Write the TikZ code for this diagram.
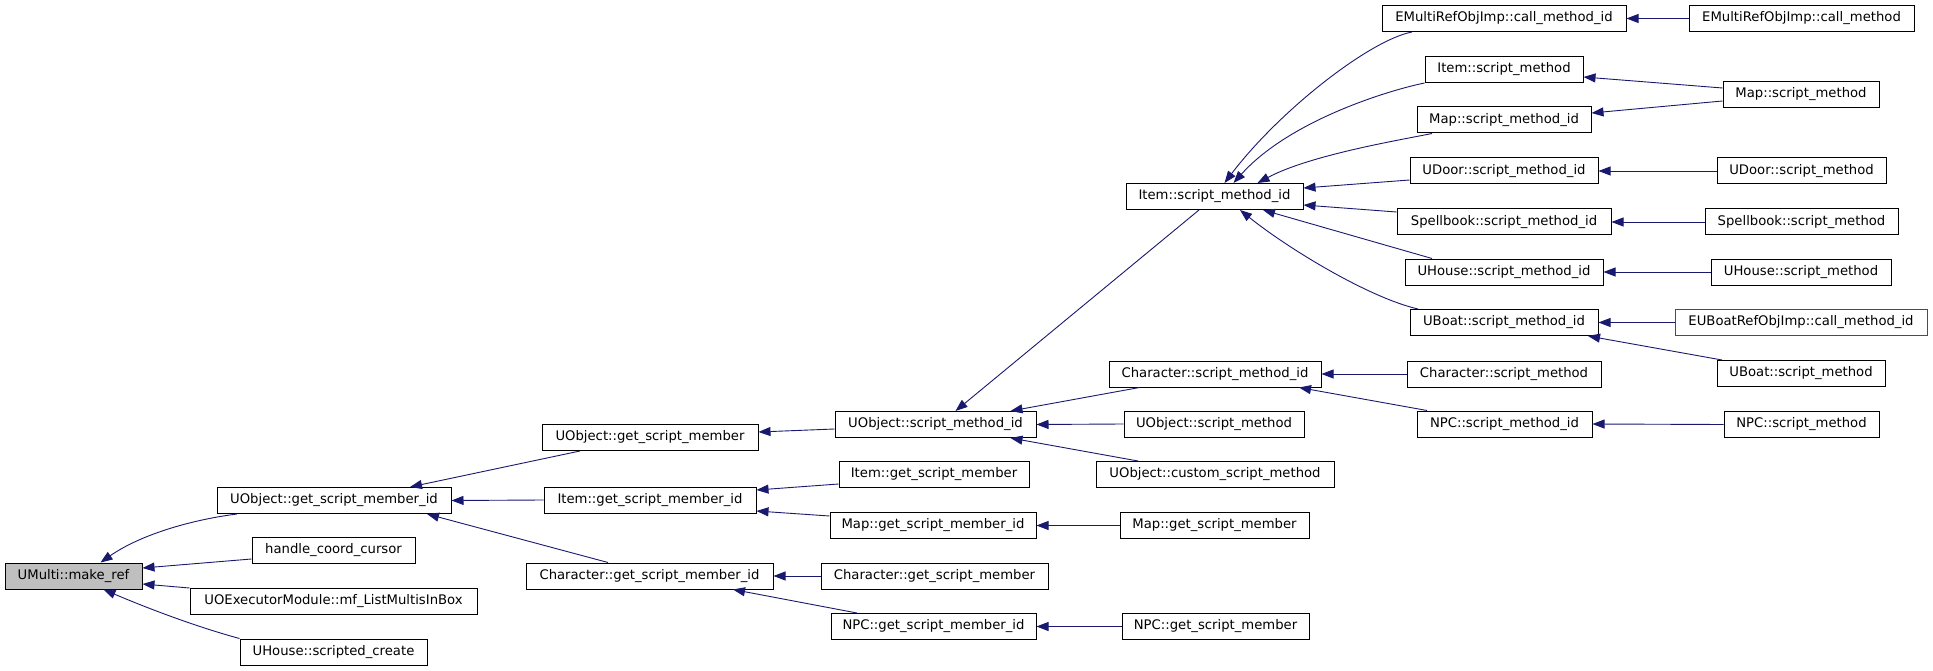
\documentclass[tikz,border=0pt]{standalone}
\usepackage{fontspec}
\setmainfont{DejaVu Sans}
\usetikzlibrary{arrows.meta}
\definecolor{edgeblue}{HTML}{191970}
\definecolor{rootgray}{HTML}{BFBFBF}
\tikzset{
  fnbox/.style={draw=black, line width=1pt, minimum height=26pt, inner sep=0pt,
    font=\fontsize{13.2}{15}\selectfont},
  call/.style={draw=edgeblue, line width=0.9pt, -{Triangle[length=12pt,width=9pt]}}
}
\newcommand{\func}[6][]{
  \node[fnbox, minimum width=#5pt, #1] (#2) at (#3,#4) {#6};
}

\begin{document}
\begin{tikzpicture}[x=1pt, y=-1pt]
      \fill[white] (0,0) rectangle (1933,671);

      \func[fill=rootgray]{make}{73.5}{576}{137}{UMulti::make\_ref}

      \func{gsmid}{334}{500.5}{234}{UObject::get\_script\_member\_id}
      \func{hcc}{333.5}{550.5}{163}{handle\_coord\_cursor}
      \func{uoex}{333.5}{601.5}{287}{UOExecutorModule::mf\_ListMultisInBox}
      \func{scr}{333.5}{652}{187}{UHouse::scripted\_create}

      \func{gsm}{650}{437.5}{216}{UObject::get\_script\_member}
      \func{igsmid}{650}{500}{212}{Item::get\_script\_member\_id}
      \func{cgsmid}{649.5}{576}{247}{Character::get\_script\_member\_id}

      \func{usmid}{935.5}{424.5}{201}{UObject::script\_method\_id}
      \func{igsm}{934}{474.5}{190}{Item::get\_script\_member}
      \func{mgsmid}{933}{525.5}{206}{Map::get\_script\_member\_id}
      \func{cgsm}{934.5}{576}{227}{Character::get\_script\_member}
      \func{ngsmid}{933.5}{626.5}{205}{NPC::get\_script\_member\_id}

      \func{ismid}{1214.5}{196.5}{177}{Item::script\_method\_id}
      \func{csmid}{1215}{374}{212}{Character::script\_method\_id}
      \func{usm}{1214}{424}{180}{UObject::script\_method}
      \func{ucsm}{1215}{474.5}{238}{UObject::custom\_script\_method}
      \func{mgsm}{1214.5}{525.5}{189}{Map::get\_script\_member}
      \func{ngsm}{1215.5}{626.5}{187}{NPC::get\_script\_member}

      \func{emcmid}{1504}{18.5}{244}{EMultiRefObjImp::call\_method\_id}
      \func{ism}{1504}{69.5}{158}{Item::script\_method}
      \func{msmid}{1504}{120}{174}{Map::script\_method\_id}
      \func{udsmid}{1504}{171}{188}{UDoor::script\_method\_id}
      \func{ssmid}{1504}{222}{214}{Spellbook::script\_method\_id}
      \func{uhsmid}{1504}{272}{198}{UHouse::script\_method\_id}
      \func{ubsmid}{1504}{322.5}{188}{UBoat::script\_method\_id}
      \func{csm}{1504}{374}{194}{Character::script\_method}
      \func{nsmid}{1504.5}{424}{175}{NPC::script\_method\_id}

      \func{emcm}{1801.5}{18.5}{225}{EMultiRefObjImp::call\_method}
      \func{msm}{1801}{94.5}{156}{Map::script\_method}
      \func{udsm}{1801.5}{171}{169}{UDoor::script\_method}
      \func{ssm}{1801.5}{222}{193}{Spellbook::script\_method}
      \func{uhsm}{1801}{272}{180}{UHouse::script\_method}
      \func[draw=red]{eub}{1801}{322.5}{252}{EUBoatRefObjImp::call\_method\_id}
      \func{ubsm}{1801}{373.5}{168}{UBoat::script\_method}
      \func{nsm}{1801.5}{424.5}{155}{NPC::script\_method}

      \foreach \a/\b in {igsmid/gsmid, cgsm/cgsmid, usm/usmid, csm/csmid,
          emcm/emcmid, udsm/udsmid, ssm/ssmid, uhsm/uhsmid, eub/ubsmid, nsm/nsmid} {
        \draw[call] (\a.west) -- (\b.east);
      }

      \draw[call] ([xshift=-97pt]gsmid.south) .. controls (190,520) and (140,535) .. ([xshift=27pt]make.north);
      \draw[call] ([yshift=-8.5pt]hcc.west) -- ([yshift=8pt]make.east);
      \draw[call] (uoex.north west) -- ([yshift=-8pt]make.east);
      \draw[call] (scr.north west) .. controls (190,625) and (140,605) .. ([xshift=30pt]make.south);

      \draw[call] ([xshift=-70pt]gsm.south) -- ([xshift=76pt]gsmid.north);
      \draw[call] ([xshift=-41.5pt]cgsmid.north) -- ([xshift=93pt]gsmid.south);
      \draw[call] ([yshift=-4.5pt]usmid.west) -- ([yshift=5.5pt]gsm.east);
      \draw[call] ([yshift=-9.5pt]igsm.west) -- ([yshift=10pt]igsmid.east);
      \draw[call] ([yshift=9.5pt]mgsmid.west) -- ([yshift=-11pt]igsmid.east);
      \draw[call] ([xshift=-76.5pt]ngsmid.north) -- ([xshift=83.5pt]cgsmid.south);
      \draw[call] (mgsm.west) -- (mgsmid.east);
      \draw[call] (ngsm.west) -- (ngsmid.east);

      \draw[call] ([xshift=-15.5pt]ismid.south) -- ([xshift=20pt]usmid.north);
      \draw[call] ([xshift=31pt]csmid.south west) -- ([xshift=75pt]usmid.north);
      \draw[call] ([xshift=-77pt]ucsm.north) -- ([xshift=75pt]usmid.south);
      \draw[call] ([xshift=-77.5pt]nsmid.north) -- ([xshift=84pt]csmid.south);

      \draw[call] ([xshift=-92pt]emcmid.south) .. controls (1370,40) and (1280,110) .. ([xshift=10pt]ismid.north);
      \draw[call] (ism.south west) .. controls (1390,90) and (1290,120) .. ([xshift=19pt]ismid.north);
      \draw[call] ([xshift=-72pt]msmid.south) .. controls (1400,140) and (1310,155) .. ([xshift=43pt]ismid.north);
      \draw[call] ([yshift=-9pt]udsmid.west) -- ([yshift=8.5pt]ismid.east);
      \draw[call] ([yshift=10pt]ssmid.west) -- ([yshift=-8.5pt]ismid.east);
      \draw[call] ([xshift=-72pt]uhsmid.north) -- ([xshift=48.5pt]ismid.south);
      \draw[call] ([xshift=-86pt]ubsmid.north) .. controls (1370,298) and (1290,250) .. ([xshift=25.5pt]ismid.south);

      \draw[call] ([yshift=6.5pt]msm.west) -- ([yshift=-7.5pt]ism.east);
      \draw[call] ([yshift=-6.5pt]msm.west) -- ([yshift=7pt]msmid.east);
      \draw[call] ([xshift=-79pt]ubsm.north) -- ([xshift=84pt]ubsmid.south);
\end{tikzpicture}
\end{document}
